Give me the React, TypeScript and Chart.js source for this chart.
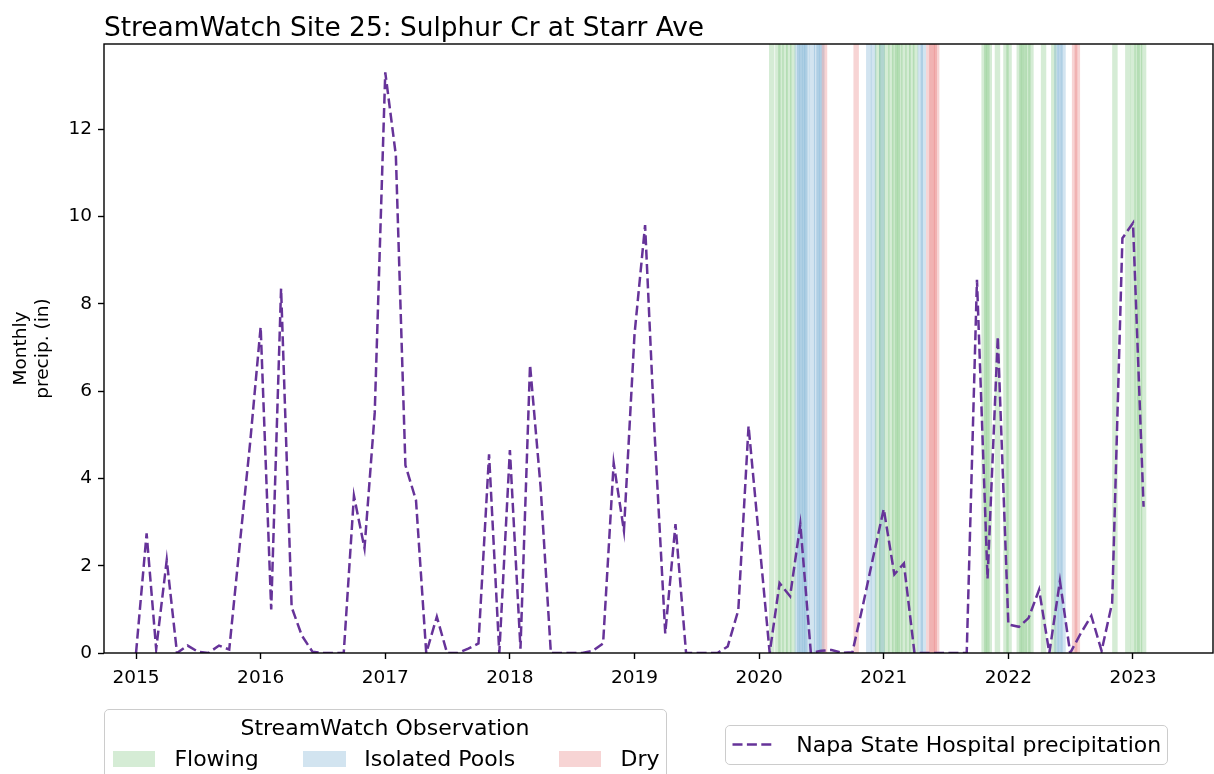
import React, { useEffect, useRef } from "react";
import { Chart, registerables } from "chart.js";

Chart.register(...registerables);

const FONT = "'DejaVu Sans', 'Liberation Sans', sans-serif";

// ---- text ----
const chartTitle = "StreamWatch Site 25: Sulphur Cr at Starr Ave";
const yAxisLabel = ["Monthly", "precip. (in)"];
const lineLabel = "Napa State Hospital precipitation";
const obsLegendTitle = "StreamWatch Observation";

// ---- axes ----
const xTickYears = [2015, 2016, 2017, 2018, 2019, 2020, 2021, 2022, 2023];
const yTickValues = [0, 2, 4, 6, 8, 10, 12];
const xMin = 2014.743;
const xMax = 2023.642;
const yMin = 0;
const yMax = 13.95;

// ---- monthly precipitation (in), Jan..Dec ----
const firstYear = 2015;
const precip2015 = [0.0, 2.74, 0.09, 2.13, 0.0, 0.17, 0.03, 0.0, 0.17, 0.08, 2.5, 4.8];
const precip2016 = [7.47, 1.0, 8.35, 1.05, 0.4, 0.03, 0.0, 0.0, 0.0, 3.6, 2.4, 5.5];
const precip2017 = [13.3, 11.4, 4.3, 3.5, 0.0, 0.83, 0.0, 0.0, 0.1, 0.22, 4.55, 0.0];
const precip2018 = [4.65, 0.1, 6.6, 3.8, 0.0, 0.0, 0.0, 0.0, 0.05, 0.22, 4.35, 2.8];
const precip2019 = [7.3, 9.8, 5.0, 0.45, 2.95, 0.0, 0.0, 0.0, 0.0, 0.15, 0.98, 5.2];
const precip2020 = [2.6, 0.0, 1.6, 1.3, 2.95, 0.0, 0.05, 0.07, 0.0, 0.02, 1.1, 2.2];
const precip2021 = [3.3, 1.8, 2.05, 0.0, 0.0, 0.0, 0.0, 0.0, 0.0, 8.55, 1.7, 7.25];
const precip2022 = [0.65, 0.6, 0.8, 1.45, 0.0, 1.65, 0.0, 0.45, 0.85, 0.05, 1.15, 9.5];
const precip2023 = [9.85, 3.35];

// ---- StreamWatch observations ----
const observationCategories = ["Flowing", "Isolated Pools", "Dry"];
const categoryColors = [
  "rgba(44,160,44,0.2)",
  "rgba(31,119,180,0.2)",
  "rgba(214,39,40,0.2)",
];
const flowingDates = [
  "2020-02-07", "2020-02-25", "2020-03-05", "2020-03-17", "2020-03-28", "2020-04-09",
  "2020-12-14", "2020-12-26", "2021-01-10", "2021-01-22", "2021-02-02", "2021-02-10",
  "2021-02-17", "2021-03-01", "2021-03-13", "2021-03-24", "2021-04-04",
  "2021-10-22", "2021-10-30", "2021-11-06", "2021-11-30", "2021-12-25", "2022-01-03",
  "2022-02-02", "2022-02-10", "2022-02-17", "2022-02-27", "2022-03-08", "2022-04-14",
  "2022-05-14", "2022-11-09", "2022-12-17", "2023-01-01", "2023-01-13", "2023-01-20",
  "2023-02-01",
];
const poolDates = [
  "2020-04-22", "2020-04-29", "2020-05-07", "2020-05-14", "2020-05-21", "2020-06-05",
  "2020-06-18", "2020-06-25", "2020-07-03", "2020-11-18", "2020-12-02", "2020-12-27",
  "2021-04-18", "2021-04-27", "2022-05-23", "2022-06-01", "2022-06-10",
];
const dryDates = [
  "2020-07-11", "2020-10-12", "2021-05-13", "2021-05-22", "2021-05-29", "2021-06-05",
  "2022-07-14", "2022-07-22",
];
const spanHalfWidthDays = 8;

// ---- helpers ----
const DAY = 86400000;
function msToYear(ms: number) {
  const y = new Date(ms).getUTCFullYear();
  const s = Date.UTC(y, 0, 1);
  const e = Date.UTC(y + 1, 0, 1);
  return y + (ms - s) / (e - s);
}
function parseDate(s: string) {
  const [y, m, d] = s.split("-").map(Number);
  return Date.UTC(y, m - 1, d);
}

const monthlyPrecip = [
  ...precip2015, ...precip2016, ...precip2017, ...precip2018, ...precip2019,
  ...precip2020, ...precip2021, ...precip2022, ...precip2023,
];
const precipPoints = monthlyPrecip.map((v, i) => ({
  x: msToYear(Date.UTC(firstYear + Math.floor(i / 12), i % 12, 1)),
  y: v,
}));

const observations = [
  ...flowingDates.map((d) => ({ ms: parseDate(d), cat: 0 })),
  ...poolDates.map((d) => ({ ms: parseDate(d), cat: 1 })),
  ...dryDates.map((d) => ({ ms: parseDate(d), cat: 2 })),
].sort((a, b) => a.ms - b.ms);

const spansPlugin = {
  id: "obsSpans",
  beforeDatasetsDraw(chart: any) {
    const { ctx, chartArea, scales } = chart;
    const xs = scales.x;
    ctx.save();
    ctx.beginPath();
    ctx.rect(chartArea.left, chartArea.top, chartArea.right - chartArea.left, chartArea.bottom - chartArea.top);
    ctx.clip();
    for (const o of observations) {
      const x0 = xs.getPixelForValue(msToYear(o.ms - spanHalfWidthDays * DAY));
      const x1 = xs.getPixelForValue(msToYear(o.ms + spanHalfWidthDays * DAY));
      ctx.fillStyle = categoryColors[o.cat];
      ctx.fillRect(x0, chartArea.top, x1 - x0, chartArea.bottom - chartArea.top);
    }
    ctx.restore();
  },
};

const framePlugin = {
  id: "frameAndLabels",
  afterDraw(chart: any) {
    const { ctx, chartArea } = chart;
    ctx.save();
    ctx.strokeStyle = "#000";
    ctx.lineWidth = 1.4;
    ctx.strokeRect(
      chartArea.left,
      chartArea.top,
      chartArea.right - chartArea.left,
      chartArea.bottom - chartArea.top
    );
    // title
    ctx.fillStyle = "#000";
    ctx.font = `26.4px ${FONT}`;
    ctx.textAlign = "left";
    ctx.textBaseline = "alphabetic";
    ctx.fillText(chartTitle, chartArea.left, 35.5);
    // y label
    const cy = (chartArea.top + chartArea.bottom) / 2;
    ctx.font = `18.5px ${FONT}`;
    ctx.textAlign = "center";
    ctx.textBaseline = "middle";
    const lineXs = [21, 43];
    yAxisLabel.forEach((t, i) => {
      ctx.save();
      ctx.translate(lineXs[i], cy);
      ctx.rotate(-Math.PI / 2);
      ctx.fillText(t, 0, 0);
      ctx.restore();
    });
    ctx.restore();
  },
};

const legendBox: React.CSSProperties = {
  position: "absolute",
  boxSizing: "border-box",
  border: "1.3px solid #cccccc",
  borderRadius: 5,
  background: "rgba(255,255,255,0.8)",
};

const legendText: React.CSSProperties = {
  position: "absolute",
  fontFamily: FONT,
  fontSize: 22,
  lineHeight: "22px",
  color: "#000",
  whiteSpace: "nowrap",
};

const patchLefts = [112.7, 303.3, 558.9];
const labelLefts = [174.4, 364.2, 620.5];

export default function App() {
  const ref = useRef<HTMLCanvasElement>(null);
  useEffect(() => {
    const canvas = ref.current!;
    const tickFont = { family: FONT, size: 18.5 };
    const chart = new Chart(canvas, {
      type: "line",
      data: {
        datasets: [
          {
            label: lineLabel,
            data: precipPoints,
            borderColor: "#663399",
            backgroundColor: "#663399",
            borderWidth: 2.5,
            borderDash: [10, 4.4],
            pointRadius: 0,
            tension: 0,
            fill: false,
          },
        ],
      },
      options: {
        responsive: false,
        animation: false,
        devicePixelRatio: 1,
        layout: { padding: { top: 44, right: 1, left: 0, bottom: 0 } },
        plugins: {
          legend: { display: false },
          tooltip: { enabled: false },
          title: { display: false },
        },
        scales: {
          x: {
            type: "linear",
            min: xMin,
            max: xMax,
            afterBuildTicks: (s: any) => {
              s.ticks = xTickYears.map((v) => ({ value: v }));
            },
            afterFit: (s: any) => {
              s.height = 121;
            },
            grid: {
              display: true,
              drawOnChartArea: false,
              drawTicks: true,
              tickLength: 6,
              tickColor: "#000",
              tickWidth: 1.4,
            },
            border: { display: false },
            ticks: {
              font: tickFont,
              color: "#000",
              padding: 8,
              maxRotation: 0,
              autoSkip: false,
              callback: (v: any) => String(v),
            },
          },
          y: {
            type: "linear",
            min: yMin,
            max: yMax,
            afterBuildTicks: (s: any) => {
              s.ticks = yTickValues.map((v) => ({ value: v }));
            },
            afterFit: (s: any) => {
              s.width = 104;
            },
            grid: {
              display: true,
              drawOnChartArea: false,
              drawTicks: true,
              tickLength: 6,
              tickColor: "#000",
              tickWidth: 1.4,
            },
            border: { display: false },
            ticks: {
              font: tickFont,
              color: "#000",
              padding: 6,
              autoSkip: false,
              callback: (v: any) => String(v),
            },
          },
        },
      },
      plugins: [spansPlugin, framePlugin],
    } as any);
    return () => chart.destroy();
  }, []);

  return (
    <div
      style={{
        position: "fixed",
        left: 0,
        top: 0,
        width: 1214,
        height: 774,
        overflow: "hidden",
        background: "#fff",
      }}
    >
      <canvas
        ref={ref}
        width={1214}
        height={774}
        style={{ display: "block", width: 1214, height: 774 }}
      />
      {/* observation legend */}
      <div style={{ ...legendBox, left: 103.5, top: 709, width: 563, height: 90 }} />
      <div style={{ ...legendText, left: 103.5, width: 563, top: 716.5, textAlign: "center" }}>
        {obsLegendTitle}
      </div>
      {observationCategories.map((c, i) => (
        <React.Fragment key={c}>
          <div
            style={{
              position: "absolute",
              left: patchLefts[i],
              top: 750.5,
              width: 42.5,
              height: 16,
              background: categoryColors[i],
            }}
          />
          <div style={{ ...legendText, left: labelLefts[i], top: 747.5 }}>{c}</div>
        </React.Fragment>
      ))}
      {/* precipitation legend */}
      <div style={{ ...legendBox, left: 724.6, top: 724.5, width: 443.5, height: 40 }} />
      <svg
        style={{ position: "absolute", left: 731, top: 738, overflow: "visible" }}
        width={46}
        height={14}
      >
        <line
          x1={1.5}
          y1={6.5}
          x2={42}
          y2={6.5}
          stroke="#663399"
          strokeWidth={2.5}
          strokeDasharray="10 4.4"
        />
      </svg>
      <div style={{ ...legendText, left: 796.2, top: 733.5 }}>{lineLabel}</div>
    </div>
  );
}
